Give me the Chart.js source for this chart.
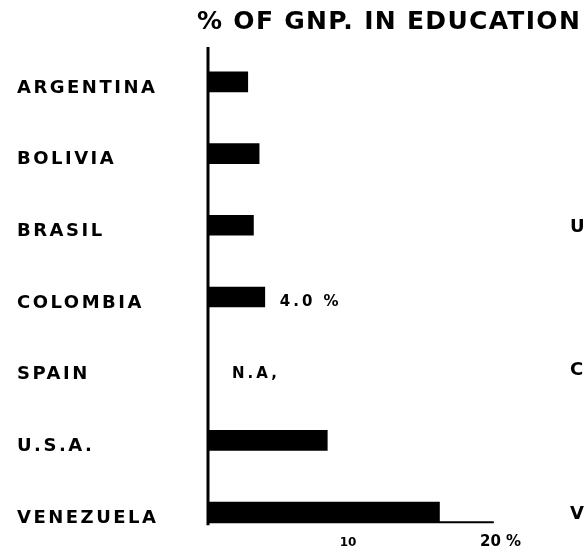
<!DOCTYPE html>
<html>
<head>
<meta charset="utf-8">
<script src="https://cdn.jsdelivr.net/npm/chart.js"></script>
<style>
  html, body { margin: 0; padding: 0; background: #fff; }
  #wrap { width: 584px; height: 553px; }
</style>
</head>
<body>
<div id="wrap"><canvas id="gnpChart" width="584" height="553"></canvas></div>
<script>
const categories = ['ARGENTINA', 'BOLIVIA', 'BRASIL', 'COLOMBIA', 'SPAIN', 'U.S.A.', 'VENEZUELA'];
const gnpShare = [2.8, 3.6, 3.2, 4.0, null, 8.4, 16.3];
const tickValues = [10, 20];
const tickLabels = ['10', '20 %'];
const noteLabels = [null, null, null, '4.0 %', 'N.A,', null, null];
const titleText = '% OF GNP. IN EDUCATION';
const nextChartLetters = ['U', 'C', 'V'];
const nextChartRows = [2, 4, 6];

const FONT = '"DejaVu Sans", sans-serif';

// axes, labels and notes are drawn by hand to look like the old print
const handDrawn = {
  id: 'handDrawn',
  afterDraw(chart) {
    const ctx = chart.ctx;
    const xs = chart.scales.x;
    const ys = chart.scales.y;
    const x0 = xs.getPixelForValue(0);
    const half = 10;
    const baseY = ys.getPixelForValue(categories.length - 1) + half;

    ctx.save();
    ctx.fillStyle = '#000';
    ctx.strokeStyle = '#000';

    // vertical axis
    ctx.lineWidth = 3;
    ctx.beginPath();
    ctx.moveTo(x0, 47);
    ctx.lineTo(x0, baseY + 3);
    ctx.stroke();

    // horizontal axis
    ctx.lineWidth = 2;
    ctx.lineCap = 'round';
    ctx.beginPath();
    ctx.moveTo(x0, baseY);
    ctx.lineTo(xs.getPixelForValue(20) + 1, baseY);
    ctx.stroke();

    // tick labels
    ctx.textBaseline = 'alphabetic';
    ctx.textAlign = 'center';
    ctx.font = 'bold 12px ' + FONT;
    ctx.fillText(tickLabels[0], xs.getPixelForValue(tickValues[0]) - 2, 546);
    ctx.textAlign = 'left';
    ctx.font = 'bold 15px ' + FONT;
    ctx.fillText(tickLabels[1], xs.getPixelForValue(tickValues[1]) - 12, 546);

    // category labels
    ctx.textBaseline = 'middle';
    ctx.font = 'bold 18px ' + FONT;
    ctx.letterSpacing = '2.5px';
    categories.forEach((c, i) => {
      ctx.fillText(c, 17, ys.getPixelForValue(i) + 6);
    });

    // value notes
    ctx.font = 'bold 15px ' + FONT;
    ctx.letterSpacing = '3px';
    noteLabels.forEach((t, i) => {
      if (!t) return;
      const v = gnpShare[i];
      const x = v == null ? x0 + 24 : xs.getPixelForValue(v) + 15;
      ctx.fillText(t, x, ys.getPixelForValue(i) + 5);
    });

    // letters of the neighbouring chart, cut by the page edge
    ctx.font = 'bold 18px ' + FONT;
    ctx.letterSpacing = '0px';
    nextChartRows.forEach((r, k) => {
      ctx.fillText(nextChartLetters[k], 570, ys.getPixelForValue(r) + 2);
    });

    // title
    ctx.textBaseline = 'alphabetic';
    ctx.font = 'bold 25px ' + FONT;
    ctx.letterSpacing = '1.3px';
    ctx.fillText(titleText, 197, 29);
    ctx.restore();
  }
};

new Chart(document.getElementById('gnpChart'), {
  type: 'bar',
  data: {
    labels: categories,
    datasets: [{
      data: gnpShare,
      backgroundColor: '#000',
      borderWidth: 0,
      barThickness: 20
    }]
  },
  options: {
    indexAxis: 'y',
    responsive: false,
    animation: false,
    layout: { padding: { left: 208, right: 92, top: 46, bottom: 5 } },
    scales: {
      x: { display: false, min: 0, max: 20 },
      y: { display: false, offset: true }
    },
    plugins: {
      legend: { display: false },
      tooltip: { enabled: false }
    }
  },
  plugins: [handDrawn]
});
</script>
</body>
</html>
